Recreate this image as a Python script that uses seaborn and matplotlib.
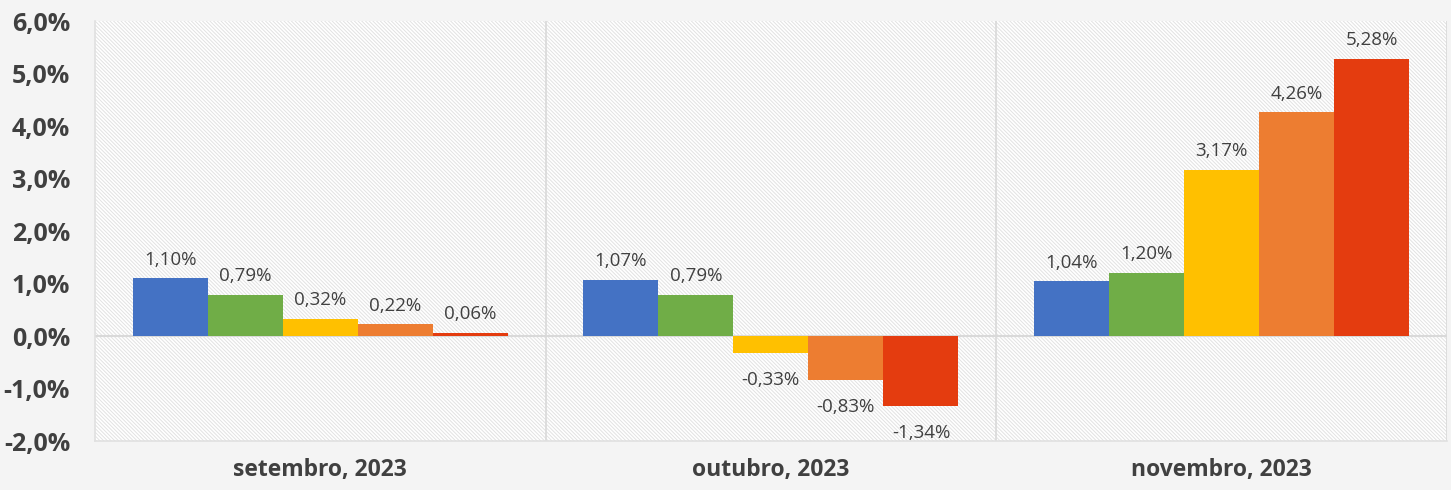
import matplotlib.pyplot as plt
from matplotlib.patches import Rectangle
import matplotlib.ticker as mticker
import seaborn as sns
import pandas as pd

months = ["setembro, 2023", "outubro, 2023", "novembro, 2023"]
series = ["A", "B", "C", "D", "E"]
values = {
    "A": [1.10, 1.07, 1.04],
    "B": [0.79, 0.79, 1.20],
    "C": [0.32, -0.33, 3.17],
    "D": [0.22, -0.83, 4.26],
    "E": [0.06, -1.34, 5.28],
}
colors = ["#4472C4", "#70AD47", "#FFC000", "#ED7D31", "#E43C0F"]

rows = []
for s in series:
    for m, v in zip(months, values[s]):
        rows.append({"month": m, "series": s, "value": v})
df = pd.DataFrame(rows)

sns.set_theme(style="white")
plt.rcParams["font.family"] = ["Open Sans", "DejaVu Sans"]

fig = plt.figure(figsize=(14.51, 4.90), dpi=100, facecolor="#f4f4f4")
ax = fig.add_axes([0.0655, 0.1, 0.9315, 0.857])
ax.set_facecolor("white")

# hatched plot background
plt.rcParams["hatch.linewidth"] = 0.7
bg = Rectangle((0, 0), 1, 1, transform=ax.transAxes, facecolor="white",
               edgecolor="#e2e2e2", hatch="\\" * 9, linewidth=0, zorder=0)
ax.add_patch(bg)

sns.barplot(data=df, x="month", y="value", hue="series", palette=colors,
            order=months, hue_order=series, width=0.833, gap=0,
            saturation=1, legend=False, ax=ax, zorder=3, linewidth=0)

ax.set_xlim(-0.5, 2.5)
ax.set_ylim(-2, 6)
ax.yaxis.set_major_locator(mticker.MultipleLocator(1))
ax.yaxis.set_major_formatter(
    mticker.FuncFormatter(lambda v, p: f"{v:.1f}%".replace(".", ",")))

for x in [0.5, 1.5, 2.5]:
    ax.axvline(x, color="#d9d9d9", lw=1.2, zorder=1)
ax.axhline(0, color="#d9d9d9", lw=1.5, zorder=2)

for sp in ["top", "right"]:
    ax.spines[sp].set_visible(False)
for sp in ["left", "bottom"]:
    ax.spines[sp].set_color("#e0e0e0")
    ax.spines[sp].set_linewidth(1.2)

for bar in ax.patches:
    if bar is bg:
        continue
    h = bar.get_height()
    x = bar.get_x() + bar.get_width() / 2
    txt = f"{h:.2f}%".replace(".", ",")
    if h >= 0:
        ax.annotate(txt, (x, h), xytext=(0, 7), textcoords="offset points",
                    ha="center", va="bottom", fontsize=13.5, color="#404040")
    else:
        ax.annotate(txt, (x, h), xytext=(0, -13), textcoords="offset points",
                    ha="center", va="top", fontsize=13.5, color="#404040")

ax.set_xlabel("")
ax.set_ylabel("")
ax.tick_params(axis="both", length=0)
ax.tick_params(axis="x", pad=12)
ax.tick_params(axis="y", pad=18)
for lab in ax.get_xticklabels():
    lab.set_fontsize(16.5)
    lab.set_fontweight("bold")
    lab.set_color("#404040")
for lab in ax.get_yticklabels():
    lab.set_fontsize(18)
    lab.set_fontweight("bold")
    lab.set_color("#404040")

fig.savefig("out.png", dpi=100, facecolor=fig.get_facecolor())
